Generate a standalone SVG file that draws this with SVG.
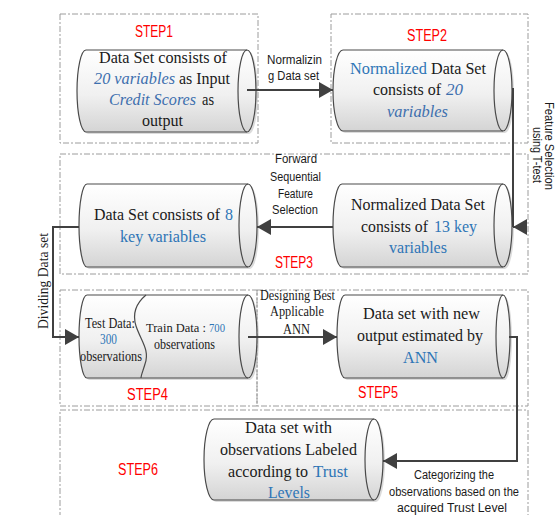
<svg xmlns="http://www.w3.org/2000/svg" width="555" height="515" viewBox="0 0 555 515">
<defs>
<linearGradient id="cyl" x1="0" y1="0" x2="0" y2="1">
<stop offset="0" stop-color="#ffffff"/>
<stop offset="0.55" stop-color="#f0f0f0"/>
<stop offset="1" stop-color="#d4d4d4"/>
</linearGradient>
<marker id="arr" viewBox="0 0 14 16" refX="14" refY="8" markerWidth="14" markerHeight="16" markerUnits="userSpaceOnUse" orient="auto">
<path d="M0,0 L14,8 L0,16 Z" fill="#404040"/>
</marker>
</defs>
<style>
.box{fill:none;stroke:#9c9c9c;stroke-width:1;stroke-dasharray:6 2 2 2}
.cyl{fill:url(#cyl);stroke:#4a4a4a;stroke-width:1.2}
.shadow{fill:#bdbdbd;opacity:0.55}
.inner{fill:none;stroke:#4a4a4a;stroke-width:1.2}
.t{font-family:"Liberation Serif",serif;font-size:17px;fill:#1a1a1a}
.ts{font-family:"Liberation Serif",serif;font-size:14px;fill:#1a1a1a}
.s{font-family:"Liberation Sans",sans-serif;font-size:12px;fill:#1a1a1a}
.step{font-family:"Liberation Sans",sans-serif;font-size:16px;fill:#ff0000}
.b{fill:#2e75b6}
.bi{fill:#3d6fae;font-style:italic}
.con{fill:none;stroke:#404040;stroke-width:2}
</style>
<rect width="555" height="515" fill="#ffffff"/>

<g id="frames">
<rect class="box" x="60" y="14" width="198" height="129"/>
<rect class="box" x="331" y="14" width="197" height="129"/>
<rect class="box" x="60" y="154" width="468" height="120"/>
<rect class="box" x="60" y="290" width="197" height="116"/>
<rect class="box" x="257" y="290" width="271" height="116"/>
<rect class="box" x="60" y="410" width="468" height="120"/>
<text class="step" x="135" y="37" textLength="38" lengthAdjust="spacingAndGlyphs">STEP1</text>
<text class="step" x="407" y="41" textLength="40" lengthAdjust="spacingAndGlyphs">STEP2</text>
<text class="step" x="275" y="268" textLength="38" lengthAdjust="spacingAndGlyphs">STEP3</text>
<text class="step" x="127" y="400" textLength="41" lengthAdjust="spacingAndGlyphs">STEP4</text>
<text class="step" x="358" y="398" textLength="40" lengthAdjust="spacingAndGlyphs">STEP5</text>
<text class="step" x="118" y="475" textLength="40" lengthAdjust="spacingAndGlyphs">STEP6</text>
</g>

<g id="node1">
<path class="shadow" d="M88,52 L249,52 A9,41 0 0 1 249,134 L88,134 A9,41 0 0 1 88,52 Z"/>
<path class="cyl" d="M86,50 L247,50 A9,41 0 0 1 247,132 L86,132 A9,41 0 0 1 86,50 Z"/>
<path class="inner" d="M247,50 A9,41 0 0 0 247,132"/>
<text class="t" x="99" y="63" textLength="128" lengthAdjust="spacingAndGlyphs">Data Set consists of</text>
<text class="t bi" x="94" y="84" textLength="81" lengthAdjust="spacingAndGlyphs">20 variables</text>
<text class="t" x="179" y="84" textLength="51" lengthAdjust="spacingAndGlyphs">as Input</text>
<text class="t bi" x="109" y="105" textLength="87" lengthAdjust="spacingAndGlyphs">Credit Scores</text>
<text class="t" x="202" y="105" textLength="12" lengthAdjust="spacingAndGlyphs">as</text>
<text class="t" x="142" y="126" textLength="41" lengthAdjust="spacingAndGlyphs">output</text>
</g>

<g id="node2">
<path class="shadow" d="M345,52 L505,52 A9,40.5 0 0 1 505,133 L345,133 A10,40.5 0 0 1 345,52 Z"/>
<path class="cyl" d="M343,50 L503,50 A9,40.5 0 0 1 503,131 L343,131 A10,40.5 0 0 1 343,50 Z"/>
<path class="inner" d="M503,50 A9,40.5 0 0 0 503,131"/>
<text class="t b" x="350" y="74" textLength="77" lengthAdjust="spacingAndGlyphs">Normalized</text>
<text class="t" x="431" y="74" textLength="55" lengthAdjust="spacingAndGlyphs">Data Set</text>
<text class="t" x="373" y="95" textLength="68" lengthAdjust="spacingAndGlyphs">consists of</text>
<text class="t bi" x="446" y="95" textLength="17" lengthAdjust="spacingAndGlyphs">20</text>
<text class="t bi" x="387" y="117" textLength="61" lengthAdjust="spacingAndGlyphs">variables</text>
</g>

<g id="node3">
<path class="shadow" d="M89,186 L250,186 A9,41.5 0 0 1 250,269 L89,269 A8,41.5 0 0 1 89,186 Z"/>
<path class="cyl" d="M87,184 L248,184 A9,41.5 0 0 1 248,267 L87,267 A8,41.5 0 0 1 87,184 Z"/>
<path class="inner" d="M248,184 A9,41.5 0 0 0 248,267"/>
<text class="t" x="94" y="220" style="font-size:16px" textLength="126" lengthAdjust="spacingAndGlyphs">Data Set consists of</text>
<text class="t b" x="225" y="220" textLength="8" lengthAdjust="spacingAndGlyphs">8</text>
<text class="t b" x="120" y="242" textLength="86" lengthAdjust="spacingAndGlyphs">key variables</text>
</g>

<g id="node4">
<path class="shadow" d="M344,186 L505,186 A9,41.5 0 0 1 505,269 L344,269 A9,41.5 0 0 1 344,186 Z"/>
<path class="cyl" d="M342,184 L503,184 A9,41.5 0 0 1 503,267 L342,267 A9,41.5 0 0 1 342,184 Z"/>
<path class="inner" d="M503,184 A9,41.5 0 0 0 503,267"/>
<text class="t" x="351" y="210" textLength="134" lengthAdjust="spacingAndGlyphs">Normalized Data Set</text>
<text class="t" x="361" y="232" textLength="67" lengthAdjust="spacingAndGlyphs">consists of</text>
<text class="t b" x="434" y="232" textLength="43" lengthAdjust="spacingAndGlyphs">13 key</text>
<text class="t b" x="389" y="253" textLength="58" lengthAdjust="spacingAndGlyphs">variables</text>
</g>

<g id="node5">
<path class="shadow" d="M89,297 L250,297 A9,41.5 0 0 1 250,380 L89,380 A8,41.5 0 0 1 89,297 Z"/>
<path class="cyl" d="M87,295 L248,295 A9,41.5 0 0 1 248,378 L87,378 A8,41.5 0 0 1 87,295 Z"/>
<path class="inner" d="M248,295 A9,41.5 0 0 0 248,378"/>
<path class="inner" d="M146,295 C140,300 131,310 136,326 C141,341 150,350 145,364 C143,371 141,375 141,378"/>
<text class="ts" x="85" y="328" textLength="50" lengthAdjust="spacingAndGlyphs">Test Data:</text>
<text class="ts b" x="100" y="344" textLength="17" lengthAdjust="spacingAndGlyphs">300</text>
<text class="ts" x="80" y="361" textLength="62" lengthAdjust="spacingAndGlyphs">observations</text>
<text class="ts" x="146" y="332" style="font-size:13px" textLength="60" lengthAdjust="spacingAndGlyphs">Train Data :</text>
<text class="ts b" x="209" y="332" style="font-size:13px" textLength="16" lengthAdjust="spacingAndGlyphs">700</text>
<text class="ts" x="154" y="349" textLength="61" lengthAdjust="spacingAndGlyphs">observations</text>
</g>

<g id="node6">
<path class="shadow" d="M347,297 L505,297 A7,41.5 0 0 1 505,380 L347,380 A8,41.5 0 0 1 347,297 Z"/>
<path class="cyl" d="M345,295 L503,295 A7,41.5 0 0 1 503,378 L345,378 A8,41.5 0 0 1 345,295 Z"/>
<path class="inner" d="M503,295 A7,41.5 0 0 0 503,378"/>
<text class="t" x="363" y="319" textLength="117" lengthAdjust="spacingAndGlyphs">Data set with new</text>
<text class="t" x="357" y="341" textLength="126" lengthAdjust="spacingAndGlyphs">output estimated by</text>
<text class="t b" x="403" y="363" textLength="35" lengthAdjust="spacingAndGlyphs">ANN</text>
</g>

<g id="node7">
<path class="shadow" d="M216,421 L376,421 A9,40.5 0 0 1 376,502 L216,502 A10,40.5 0 0 1 216,421 Z"/>
<path class="cyl" d="M214,419 L374,419 A9,40.5 0 0 1 374,500 L214,500 A10,40.5 0 0 1 214,419 Z"/>
<path class="inner" d="M374,419 A9,40.5 0 0 0 374,500"/>
<text class="t" x="245" y="433" textLength="87" lengthAdjust="spacingAndGlyphs">Data set with</text>
<text class="t" x="220" y="455" textLength="137" lengthAdjust="spacingAndGlyphs">observations Labeled</text>
<text class="t" x="228" y="477" textLength="80" lengthAdjust="spacingAndGlyphs">according to</text>
<text class="t b" x="313" y="477" textLength="35" lengthAdjust="spacingAndGlyphs">Trust</text>
<text class="t b" x="268" y="498" textLength="42" lengthAdjust="spacingAndGlyphs">Levels</text>
</g>

<g id="connectors">
<path class="con" d="M247,90 H333" marker-end="url(#arr)"/>
<path class="con" d="M513,88 V227 M527,227 H513" marker-end="url(#arr)"/>
<path class="con" d="M333,227 H257" marker-end="url(#arr)"/>
<path class="con" d="M79,227 H53 V337 H79" marker-end="url(#arr)"/>
<path class="con" d="M248,337 H337" marker-end="url(#arr)"/>
<path class="con" d="M509,337 H517 V461 H383" marker-end="url(#arr)"/>
<text class="s" x="267" y="64" textLength="55" lengthAdjust="spacingAndGlyphs">Normalizin</text>
<text class="s" x="268" y="80" textLength="51" lengthAdjust="spacingAndGlyphs">g Data set</text>
<text class="s" transform="translate(545,146) rotate(90)" x="-44" y="0" textLength="88" lengthAdjust="spacingAndGlyphs">Feature Selection</text>
<text class="s" transform="translate(533,155) rotate(90)" x="-28" y="0" textLength="56" lengthAdjust="spacingAndGlyphs">using T-test</text>
<text class="s" x="275" y="163" textLength="42" lengthAdjust="spacingAndGlyphs">Forward</text>
<text class="s" x="270" y="181" textLength="51" lengthAdjust="spacingAndGlyphs">Sequential</text>
<text class="s" x="278" y="198" textLength="35" lengthAdjust="spacingAndGlyphs">Feature</text>
<text class="s" x="272" y="214" textLength="46" lengthAdjust="spacingAndGlyphs">Selection</text>
<text class="ts" transform="translate(48,281) rotate(-90)" x="-48" y="0" textLength="96" lengthAdjust="spacingAndGlyphs">Dividing Data set</text>
<text class="ts" x="260" y="300" textLength="75" lengthAdjust="spacingAndGlyphs">Designing Best</text>
<text class="ts" x="270" y="316" textLength="54" lengthAdjust="spacingAndGlyphs">Applicable</text>
<text class="ts" x="283" y="334" textLength="27" lengthAdjust="spacingAndGlyphs">ANN</text>
<text class="s" x="414" y="479" textLength="80" lengthAdjust="spacingAndGlyphs">Categorizing the</text>
<text class="s" x="389" y="496" textLength="130" lengthAdjust="spacingAndGlyphs">observations based on the</text>
<text class="s" x="397" y="512" textLength="110" lengthAdjust="spacingAndGlyphs">acquired Trust Level</text>
</g>
</svg>
